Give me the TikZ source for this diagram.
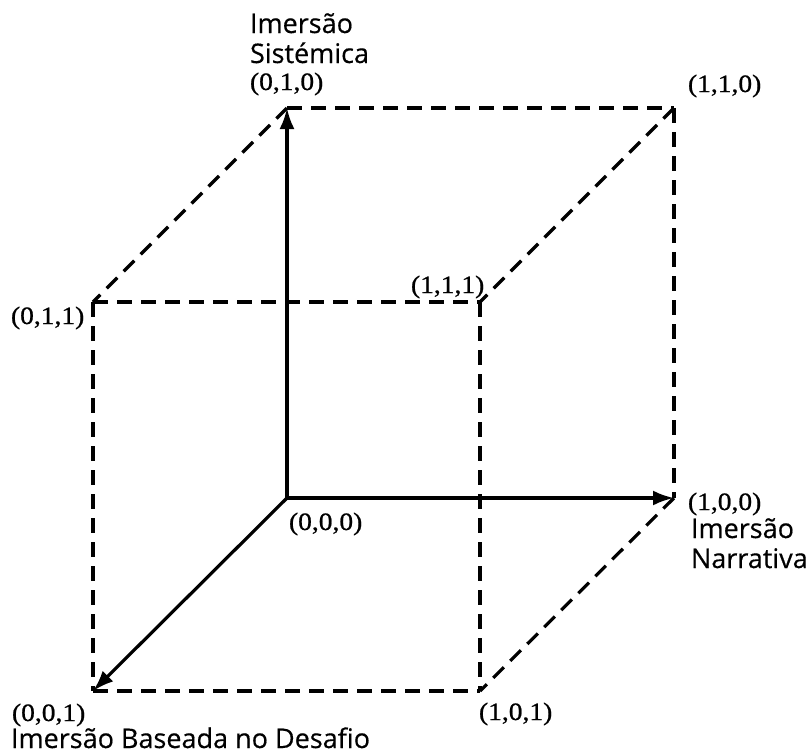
\documentclass[tikz,border=0pt]{standalone}
\usepackage{fontspec}
\usepackage{graphicx}
\setmainfont{Liberation Serif}
\newfontfamily\vtxfont[FakeBold=0.8]{Liberation Serif}
\newfontfamily\axisfont[FakeBold=0.4]{Open Sans}
\usetikzlibrary{arrows.meta}

% vertex labels: slightly widened serif figures
\newcommand{\vlab}[1]{\vtxfont\fontsize{25}{25}\selectfont\scalebox{1.1}[1]{#1}}

\tikzset{
  edge/.style={line width=3.2pt, dash pattern=on 15pt off 9pt},
  axis/.style={line width=3.2pt, -{Latex[length=21pt,width=15pt]}},
  vtx/.style={anchor=base west, inner sep=0pt, outer sep=0pt},
  axislabel/.style={anchor=base west, inner sep=0pt, outer sep=0pt, align=left,
    font=\axisfont\fontsize{27}{30}\selectfont},
}

\begin{document}
\begin{tikzpicture}[x=1pt, y=-1pt]
  \path[use as bounding box] (0,0) rectangle (812,753);

  % cube corners
  \coordinate (O)   at (287,498);
  \coordinate (Y)   at (287,108);
  \coordinate (XY)  at (674,108);
  \coordinate (X)   at (674,498);
  \coordinate (YZ)  at (93,302);
  \coordinate (XYZ) at (480,302);
  \coordinate (Z)   at (93,691);
  \coordinate (XZ)  at (480,691);

  % visible cube edges
  \draw[edge] (Y) -- (XY);
  \draw[edge] (XY) -- (X);
  \draw[edge] (Y) -- (YZ);
  \draw[edge] (XY) -- (XYZ);
  \draw[edge] (X) -- (XZ);
  \draw[edge] (YZ) -- (XYZ);
  \draw[edge] (YZ) -- (Z);
  \draw[edge] (XYZ) -- (XZ);
  \draw[edge] (Z) -- (XZ);

  % axes
  \draw[axis] (O) -- (Y);
  \draw[axis] (O) -- (X);
  \draw[axis] (O) -- (Z);

  % vertex labels
  \node[vtx] (lY)   at (250,90)  {\vlab{(0,1,0)}};
  \node[vtx] (lXY)  at (688,92)  {\vlab{(1,1,0)}};
  \node[vtx] (lYZ)  at (11,324)  {\vlab{(0,1,1)}};
  \node[vtx] (lXYZ) at (411,293) {\vlab{(1,1,1)}};
  \node[vtx] (lO)   at (289,530) {\vlab{(0,0,0)}};
  \node[vtx] (lX)   at (688,510) {\vlab{(1,0,0)}};
  \node[vtx] (lZ)   at (12,721)  {\vlab{(0,0,1)}};
  \node[vtx] (lXZ)  at (479,720) {\vlab{(1,0,1)}};

  % axis names (base anchor sits on the last line)
  \node[axislabel] (nY) at (250,63)  {Imersão\\Sistémica};
  \node[axislabel] (nX) at (691,568) {Imersão\\Narrativa};
  \node[axislabel] (nZ) at (11,748)  {Imersão Baseada no Desafio};
\end{tikzpicture}
\end{document}
